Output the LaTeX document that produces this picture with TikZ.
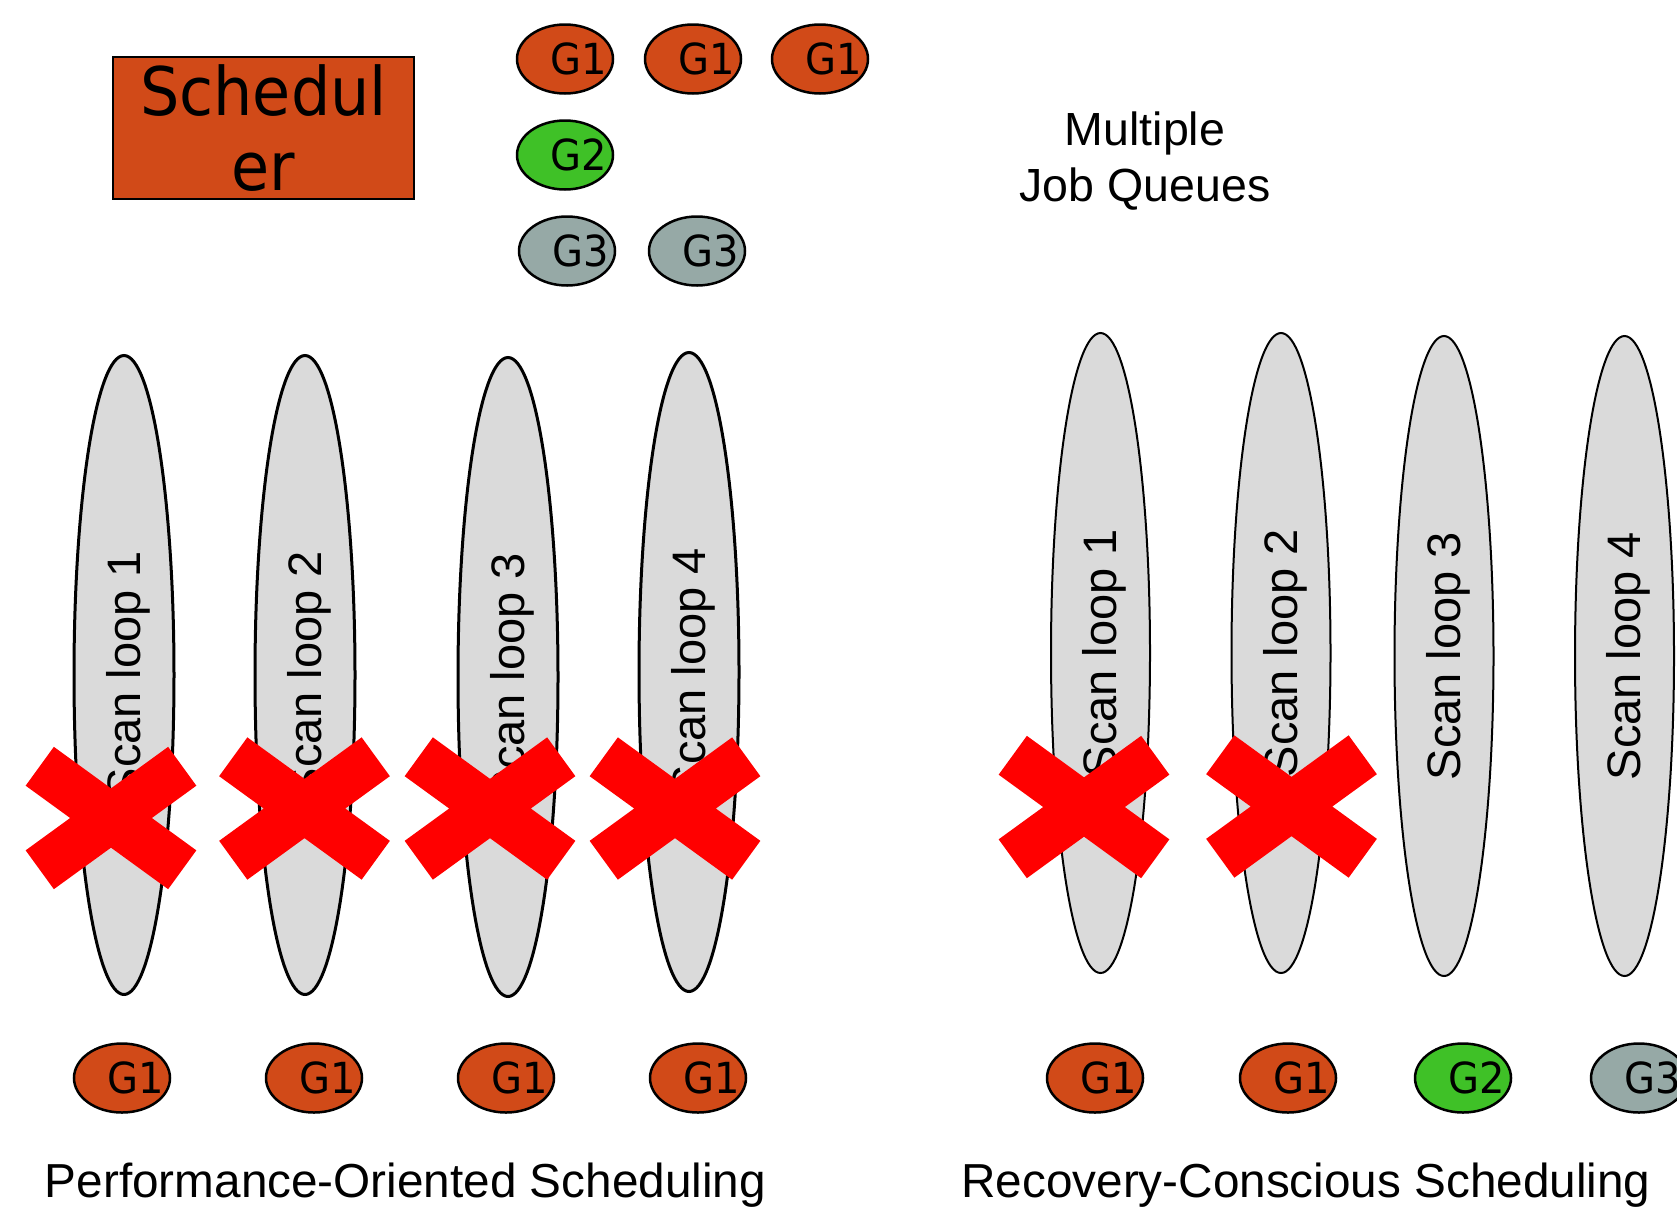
\documentclass[tikz,border=0pt]{standalone}
\usepackage{fontspec}
\setmainfont{Liberation Sans}
\newfontfamily\djv{DejaVu Sans}
\usetikzlibrary{shapes.geometric}

\definecolor{grporange}{RGB}{209,74,24}
\definecolor{grpgreen}{RGB}{63,193,39}
\definecolor{grpgray}{RGB}{150,169,166}
\definecolor{loopfill}{RGB}{218,218,218}
\definecolor{crossred}{RGB}{255,0,0}

% slightly tall lettering used in the scheduler box and job tokens
\newcommand\tallg[1]{\scalebox{1}[1.07]{#1}}

\tikzset{
  joblabel/.style={font=\djv\fontsize{40}{48}\selectfont, xshift=14pt, inner sep=0pt},
  job/.style={ellipse, draw=black, line width=2.5pt, minimum width=96pt,
              minimum height=69pt, inner sep=0pt},
  gone/.style={job, fill=grporange, label={[joblabel]center:{\tallg{G1}}}},
  gtwo/.style={job, fill=grpgreen, label={[joblabel]center:{\tallg{G2}}}},
  gthree/.style={job, fill=grpgray, label={[joblabel]center:{\tallg{G3}}}},
  scanloop/.style={ellipse, draw=black, fill=loopfill, rotate=90, inner sep=0pt,
                   text height=42pt, text depth=10pt,
                   font=\fontsize{47}{56}\selectfont},
  loopleft/.style={scanloop, line width=3pt, minimum width=639pt, minimum height=100pt},
  loopright/.style={scanloop, line width=2pt, minimum width=640pt, minimum height=99pt},
  caption/.style={font=\fontsize{47.7}{56}\selectfont, anchor=base, inner sep=0pt},
  redcross/.pic={
    \draw[crossred, line width=48pt] (-71.25,-51.75) -- (71.25,51.75)
                                      (-71.25,51.75) -- (71.25,-51.75);
  }
}

\begin{document}
\begin{tikzpicture}[x=1pt, y=-1pt]
  \clip (0,0) rectangle (1677,1211);
  \fill[white] (0,0) rectangle (1677,1211);

  % scheduler and its job queues
  \node[draw=black, line width=2.5pt, fill=grporange, minimum width=301pt,
        minimum height=142pt, align=center, inner sep=0pt,
        font=\djv\fontsize{62}{75}\selectfont] (sched) at (263.5,128)
        {\scalebox{1}[1.08]{Schedul}\\\scalebox{1}[1.08]{er}};

  \node[gone] (q11) at (565,59) {};
  \node[gone] (q12) at (693,59) {};
  \node[gone] (q13) at (820,59) {};
  \node[gtwo] (q21) at (565,155) {};
  \node[gthree] (q31) at (567,251) {};
  \node[gthree] (q32) at (697,251) {};

  \node[align=center, font=\fontsize{46.5}{55.5}\selectfont, inner sep=0pt]
       (queues) at (1145,161) {Multiple\\Job Queues};

  % performance-oriented side
  \node[loopleft] (pl1) at (124,675) {Scan loop 1};
  \node[loopleft] (pl2) at (305,675) {Scan loop 2};
  \node[loopleft] (pl3) at (508,677) {Scan loop 3};
  \node[loopleft] (pl4) at (689,672) {Scan loop 4};

  \pic at (111,818) {redcross};
  \pic at (304.5,808.5) {redcross};
  \pic at (490,808.5) {redcross};
  \pic at (675,808.5) {redcross};

  \node[gone] (pj1) at (122,1078) {};
  \node[gone] (pj2) at (314,1078) {};
  \node[gone] (pj3) at (506,1078) {};
  \node[gone] (pj4) at (698,1078) {};

  \node[caption] (pcap) at (405.5,1197) {Performance-Oriented Scheduling};

  % recovery-conscious side
  \node[loopright] (rl1) at (1100.5,653) {Scan loop 1};
  \node[loopright] (rl2) at (1281,653) {Scan loop 2};
  \node[loopright] (rl3) at (1444,656) {Scan loop 3};
  \node[loopright] (rl4) at (1624.5,656) {Scan loop 4};

  \pic at (1084,807) {redcross};
  \pic at (1291.5,806.5) {redcross};

  \node[gone] (rj1) at (1095,1078) {};
  \node[gone] (rj2) at (1288,1078) {};
  \node[gtwo] (rj3) at (1463,1078) {};
  \node[gthree] (rj4) at (1639,1078) {};

  \node[caption] (rcap) at (1306,1197) {Recovery-Conscious Scheduling};
\end{tikzpicture}
\end{document}
